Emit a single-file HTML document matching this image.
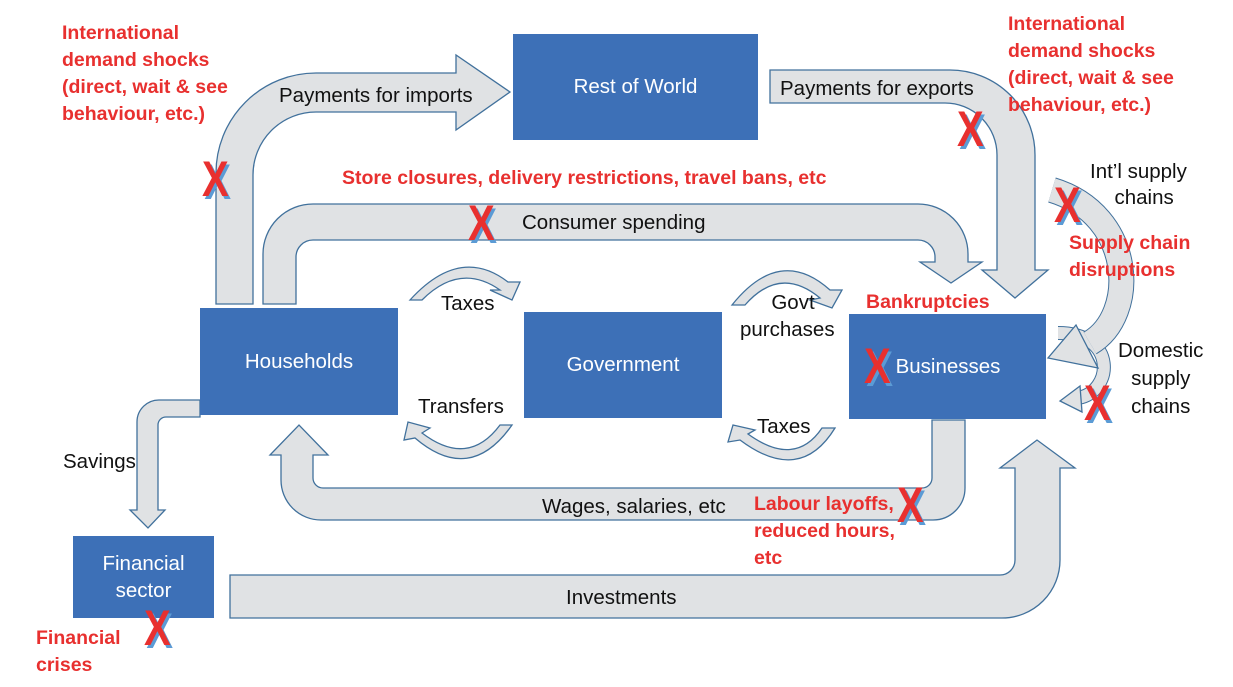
<!DOCTYPE html>
<html><head><meta charset="utf-8"><style>
body{margin:0;width:1233px;height:687px;background:#fff;overflow:hidden;position:relative;font-family:"Liberation Sans",sans-serif}
svg{position:absolute;left:0;top:0}
.t{position:absolute;font-size:20.5px;color:#111;white-space:nowrap}
.r{position:absolute;font-size:19.5px;font-weight:bold;color:#e8302f;line-height:27px;white-space:nowrap}
.w{position:absolute;color:#fff;font-size:20.5px;text-align:center;display:flex;align-items:center;justify-content:center}
.x{position:absolute;font-size:50px;font-weight:bold;color:#e8302f;text-shadow:3px 3px 0 #5b9bd5;line-height:50px;transform:scaleX(0.8);transform-origin:left top}
</style></head><body>
<svg width="1233" height="687" viewBox="0 0 1233 687">
<g fill="#e0e2e4" stroke="#41719c" stroke-width="1.3">
<path d="M216,304 L216,173 A100,100 0 0 1 316,73 L456,73 L456,55 L510,92 L456,130 L456,112 L316,112 A63,63 0 0 0 253,175 L253,304 Z"/>
<path d="M263,304 L263,254 A50,50 0 0 1 313,204 L918,204 A50,50 0 0 1 968,254 L968,262 L982,262 L951,283 L920,262 L935,262 L935,257 A17,17 0 0 0 918,240 L313,240 A17,17 0 0 0 296,257 L296,304 Z"/>
<path d="M770,70 L950,70 A85,85 0 0 1 1035,155 L1035,270 L1048,270 L1015,298 L982,270 L997,270 L997,155 A52,52 0 0 0 945,103 L770,103 Z"/>
<path d="M965,420 L965,488 A32,32 0 0 1 933,520 L321,520 A40,40 0 0 1 281,480 L281,455 L270,455 L299,425 L328,455 L313,455 L313,478 A10,10 0 0 0 323,488 L922,488 A10,10 0 0 0 932,478 L932,420 Z"/>
<path d="M230,575 L1000,575 A15,15 0 0 0 1015,560 L1015,468 L1000,468 L1037,440 L1075,468 L1060,468 L1060,560 A58,58 0 0 1 1002,618 L230,618 Z"/>
<path d="M200,400 L160,400 A22,22 0 0 0 137,422 L137,510 L130,510 L148,528 L165,510 L158,510 L158,425 A8,8 0 0 1 166,417 L200,417 Z"/>
<path d="M410,300 Q460,245 508,282 L520,282 L512,300 L490,290 L500,290 Q460,262 422,300 Z"/>
<path d="M512,425 Q470,485 415,438 L404,440 L408,422 L430,428 L422,433 Q468,468 500,425 Z"/>
<path d="M732,305 Q780,245 830,290 L842,290 L832,308 L810,300 L820,298 Q780,265 745,305 Z"/>
<path d="M835,428 Q800,485 740,440 L728,442 L733,425 L755,430 L748,434 Q795,468 822,428 Z"/>
</g>
<path d="M1058,333 C1118,333 1113,392 1078,398" fill="none" stroke="#41719c" stroke-width="14"/>
<path d="M1058,333 C1118,333 1113,392 1078,398" fill="none" stroke="#e0e2e4" stroke-width="12"/>
<polygon points="1080,386 1060,401 1082,412" fill="#e0e2e4" stroke="#41719c" stroke-width="1.3"/>
<path d="M1052,190 C1135,215 1138,315 1090,343" fill="none" stroke="#41719c" stroke-width="26"/>
<path d="M1052,190 C1135,215 1138,315 1090,343" fill="none" stroke="#e0e2e4" stroke-width="24"/>
<polygon points="1076,325 1048,358 1098,368" fill="#e0e2e4" stroke="#41719c" stroke-width="1.3"/>
<g fill="#3d70b7">
<rect x="513" y="34" width="245" height="106"/>
<rect x="200" y="308" width="198" height="107"/>
<rect x="524" y="312" width="198" height="106"/>
<rect x="849" y="314" width="197" height="105"/>
<rect x="73" y="536" width="141" height="82"/>
</g>
</svg>
<div class="w" style="left:513px;top:34px;width:245px;height:106px">Rest of World</div>
<div class="w" style="left:200px;top:308px;width:198px;height:107px">Households</div>
<div class="w" style="left:524px;top:312px;width:198px;height:106px">Government</div>
<div class="w" style="left:890px;top:314px;width:116px;height:105px">Businesses</div>
<div class="w" style="left:73px;top:536px;width:141px;height:82px;line-height:27px">Financial<br>sector</div>
<div class="t" style="left:279px;top:84px">Payments for imports</div>
<div class="t" style="left:780px;top:77px">Payments for exports</div>
<div class="t" style="left:522px;top:211px">Consumer spending</div>
<div class="t" style="left:441px;top:292px">Taxes</div>
<div class="t" style="left:418px;top:395px">Transfers</div>
<div class="t" style="left:740px;top:289px;text-align:center;line-height:27px">&nbsp;&nbsp;Govt<br>purchases</div>
<div class="t" style="left:757px;top:415px">Taxes</div>
<div class="t" style="left:542px;top:495px">Wages, salaries, etc</div>
<div class="t" style="left:63px;top:450px">Savings</div>
<div class="t" style="left:566px;top:586px">Investments</div>
<div class="t" style="left:1090px;top:159px;text-align:center;line-height:26px">Int’l supply<br>&nbsp;&nbsp;chains</div>
<div class="t" style="left:1118px;top:337px;text-align:center;line-height:28px">Domestic<br>supply<br>chains</div>
<div class="r" style="left:62px;top:20px">International<br>demand shocks<br>(direct, wait &amp; see<br>behaviour, etc.)</div>
<div class="r" style="left:1008px;top:11px">International<br>demand shocks<br>(direct, wait &amp; see<br>behaviour, etc.)</div>
<div class="r" style="left:342px;top:165px">Store closures, delivery restrictions, travel bans, etc</div>
<div class="r" style="left:1069px;top:230px">Supply chain<br>disruptions</div>
<div class="r" style="left:866px;top:289px">Bankruptcies</div>
<div class="r" style="left:754px;top:491px">Labour layoffs,<br>reduced hours,<br>etc</div>
<div class="r" style="left:36px;top:625px">Financial<br>crises</div>
<div class="x" style="left:202px;top:154px">X</div>
<div class="x" style="left:468px;top:198px">X</div>
<div class="x" style="left:957px;top:104px">X</div>
<div class="x" style="left:1054px;top:180px">X</div>
<div class="x" style="left:864px;top:341px">X</div>
<div class="x" style="left:897px;top:480px">X</div>
<div class="x" style="left:144px;top:603px">X</div>
<div class="x" style="left:1084px;top:378px">X</div>
</body></html>
